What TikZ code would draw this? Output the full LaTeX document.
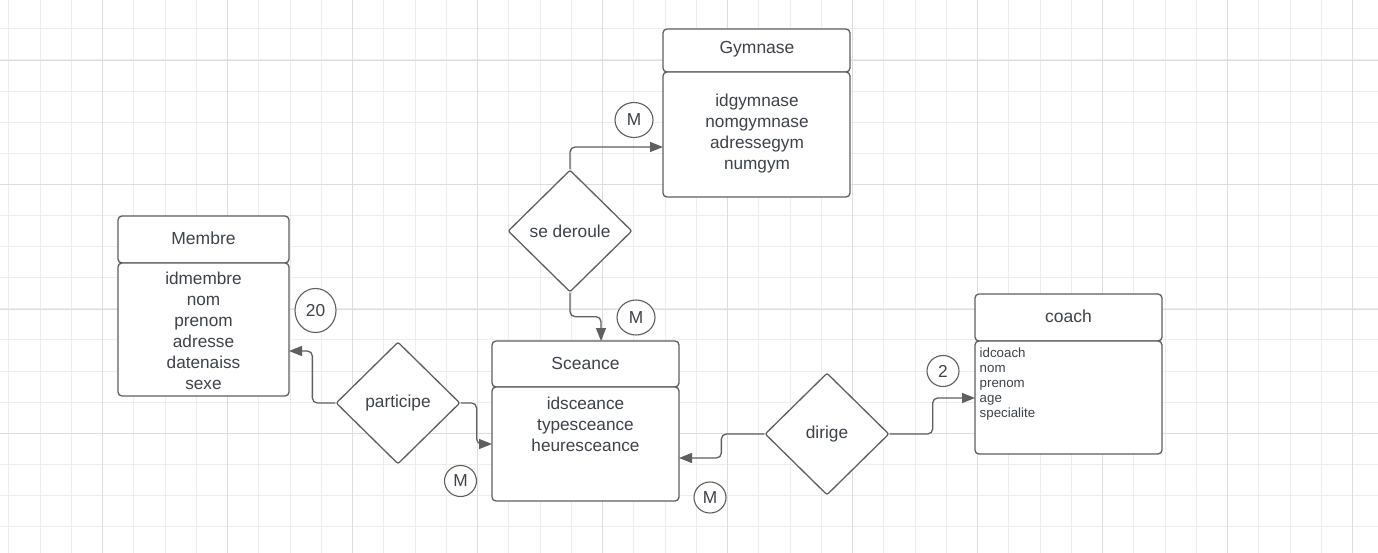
\documentclass[tikz,border=0pt]{standalone}
\usepackage{fontspec}
\setmainfont{Liberation Sans}
\usetikzlibrary{shapes.geometric,arrows.meta}
\definecolor{ln}{HTML}{5F5F5F}
\definecolor{tx}{HTML}{3D424B}
\definecolor{gmin}{HTML}{EDEDED}
\definecolor{gmaj}{HTML}{DDDDDD}
\tikzset{
  box/.style={draw=ln,line width=1.3pt,rounded corners=4pt,fill=white,inner sep=0pt},
  attr/.style={text=tx,align=center,inner sep=0pt,font=\fontsize{17.2}{21}\selectfont},
  rel/.style={diamond,draw=ln,line width=1.3pt,fill=white,inner sep=0pt,minimum width=124pt,minimum height=122pt,rounded corners=2pt,text=tx,font=\fontsize{17.3}{20}\selectfont},
  card/.style={ellipse,draw=ln,line width=1.1pt,fill=white,inner sep=0pt,text=tx,font=\fontsize{17.3}{20}\selectfont},
  conn/.style={draw=ln,line width=1.3pt,rounded corners=5pt,-{Triangle[length=13pt,width=10pt]}},
  ttl/.style={text=tx,font=\fontsize{17.5}{20}\selectfont}
}
\begin{document}
\begin{tikzpicture}[x=1pt,y=-1pt]
\useasboundingbox (0,0) rectangle (1378,553);
\fill[white] (0,0) rectangle (1378,553);
% grid
\foreach \i in {0,...,44} {
  \draw[gmin,line width=1pt] ({8.8+31.25*\i},0) -- ({8.8+31.25*\i},553);
}
\foreach \i in {0,...,18} {
  \draw[gmin,line width=1pt] (0,{-2.2+31.1*\i}) -- (1378,{-2.2+31.1*\i});
}
\foreach \i in {0,...,10} {
  \draw[gmaj,line width=1pt] ({102.5+125*\i},0) -- ({102.5+125*\i},553);
}
\foreach \i in {0,...,4} {
  \draw[gmaj,line width=1pt] (0,{60.2+124.4*\i}) -- (1378,{60.2+124.4*\i});
}
% Gymnase
\node[box,minimum width=187pt,minimum height=43pt] (ghead) at (756.5,50.5) {};
\node[ttl] (gtitle) at (757,49) {Gymnase};
\node[box,minimum width=187pt,minimum height=125pt] (gbody) at (756.5,134.5) {};
\node[attr] (gattr) at (757,134) {idgymnase\\nomgymnase\\adressegym\\numgym};
% Membre
\node[box,minimum width=171pt,minimum height=47pt] (mhead) at (203.5,239.5) {};
\node[ttl] (mtitle) at (203.5,238.5) {Membre};
\node[box,minimum width=171pt,minimum height=133pt] (mbody) at (203.5,329.5) {};
\node[attr] (mattr) at (203.5,330.5) {idmembre\\nom\\prenom\\adresse\\datenaiss\\sexe};
% Sceance
\node[box,minimum width=187pt,minimum height=46pt] (shead) at (585.5,364) {};
\node[ttl] (stitle) at (585.5,363) {Sceance};
\node[box,minimum width=187pt,minimum height=114pt] (sbody) at (585.5,444) {};
\node[attr] (sattr) at (585.5,424) {idsceance\\typesceance\\heuresceance};
% coach
\node[box,minimum width=187pt,minimum height=47pt] (chead) at (1068.5,317.5) {};
\node[ttl] (ctitle) at (1068.5,316) {coach};
\node[box,minimum width=187pt,minimum height=113pt] (cbody) at (1068.5,397.5) {};
\node[text=tx,align=left,inner sep=0pt,anchor=north west,font=\fontsize{13.3}{15}\selectfont] (cattr) at (979.5,348) {idcoach\\nom\\prenom\\age\\specialite};
% relations
\node[rel] (sd) at (570,231) {se deroule};
\node[rel] (pa) at (398,403) {participe};
\node[rel] (di) at (827,434) {dirige};
% entry points
\coordinate (gin) at (663,147);
\coordinate (sin) at (601,341);
\coordinate (min) at (289,351);
\coordinate (sbin1) at (492,444);
\coordinate (sbin2) at (679,458);
\coordinate (cin) at (975,398);
% connectors
\draw[conn] (sd.north) |- (gin);
\draw[conn] (sd.south) -- ++(0,24) -| (sin);
\draw[conn] (pa.west) -- ++(-23,0) |- (min);
\draw[conn] (pa.east) -- ++(16,0) |- (sbin1);
\draw[conn] (di.west) -- ++(-43,0) |- (sbin2);
\draw[conn] (di.east) -- ++(43,0) |- (cin);
% cardinalities
\node[card,minimum width=38pt,minimum height=35pt] (c1) at (634,120) {M};
\node[card,minimum width=38pt,minimum height=35pt] (c2) at (636,317.5) {M};
\node[card,minimum width=41pt,minimum height=44pt] (c3) at (315.5,310.5) {20};
\node[card,minimum width=32pt,minimum height=31pt] (c4) at (460.5,481) {M};
\node[card,minimum width=32pt,minimum height=31pt] (c5) at (710,497.5) {M};
\node[card,minimum width=32pt,minimum height=31pt] (c6) at (943,371) {2};
\end{tikzpicture}
\end{document}
